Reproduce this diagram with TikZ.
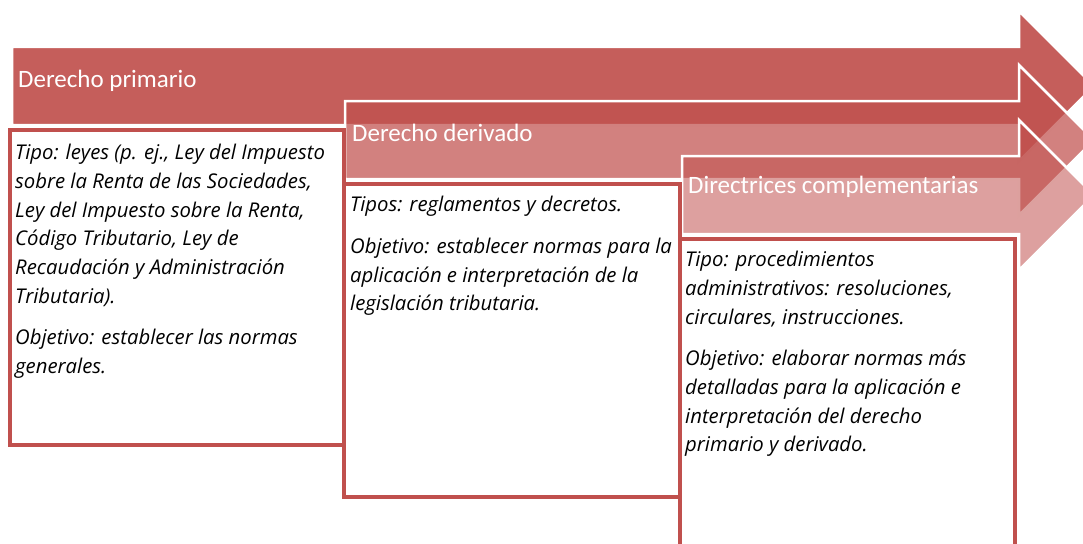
\documentclass[tikz,border=0pt]{standalone}
\usepackage{fontspec}
\setmainfont{Carlito}
\newfontfamily\handfont{Open Sans}
\usetikzlibrary{calc}
\definecolor{accent}{HTML}{C0504D}

\begin{document}
\begin{tikzpicture}[x=1pt,y=-1pt,
    band/.style={fill=accent,draw=white,line width=2.5pt,line join=miter},
    card/.style={fill=white,draw=accent,line width=4pt},
    title/.style={anchor=base west,inner sep=0pt,text=white,font=\fontsize{25}{25}\selectfont},
    note/.style={anchor=north west,align=left,inner sep=0pt,font=\handfont\fontsize{20.3}{28.7}\selectfont\itshape}]
    \useasboundingbox (0,0) rectangle (1083,543);
    \clip (0,0) rectangle (1083,543);
    % staircase of arrows: left end / middle / opacity
    \foreach \x/\c/\o in {12/86/0.92, 345/140/0.72, 682/195/0.54}{
        \draw[band,fill opacity=\o] (\x,\c-39) -- (1019,\c-39) -- (1019,\c-75)
            -- (1094,\c) -- (1019,\c+75) -- (1019,\c+39) -- (\x,\c+39) -- cycle;
    }
    \node[title] (primario) at (18,87) {Derecho primario};
    \node[title] (derivado) at (352,141) {Derecho derivado};
    \node[title] (directrices) at (688,193) {Directrices complementarias};
    % boxes
    \coordinate (A) at (10,130);
    \coordinate (B) at (344,184);
    \coordinate (C) at (680,239);
    \draw[card] (A) rectangle (344,445);
    \draw[card] (B) rectangle (680,497);
    \draw[card] (C) rectangle (1015,560);
    \node[note] (tipoA) at ($(A)+(5,14)$) {Tipo: leyes (p. ej., Ley del Impuesto\\
        sobre la Renta de las Sociedades,\\
        Ley del Impuesto sobre la Renta,\\
        Código Tributario, Ley de\\
        Recaudación y Administración\\
        Tributaria).\\[13pt]
        Objetivo: establecer las normas\\
        generales.};
    \node[note] (tipoB) at ($(B)+(6,12)$) {Tipos: reglamentos y decretos.\\[13pt]
        Objetivo: establecer normas para la\\
        aplicación e interpretación de la\\
        legislación tributaria.};
    \node[note] (tipoC) at ($(C)+(5,12)$) {Tipo: procedimientos\\
        administrativos: resoluciones,\\
        circulares, instrucciones.\\[13pt]
        Objetivo: elaborar normas más\\
        detalladas para la aplicación e\\
        interpretación del derecho\\
        primario y derivado.};
\end{tikzpicture}
\end{document}
